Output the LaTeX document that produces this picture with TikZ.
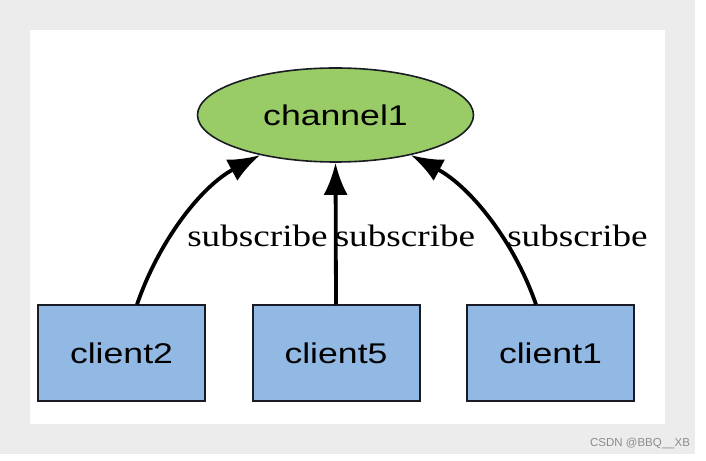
\documentclass[tikz,border=0pt]{standalone}
\usepackage{fontspec}
\usepackage{tikz}
\usetikzlibrary{shapes,arrows.meta}
\usetikzlibrary{positioning}
\newfontfamily\boxfont[FakeStretch=1.25]{Liberation Sans}
\newfontfamily\edgefont[FakeStretch=1.2]{Liberation Serif}
\newfontfamily\markfont{Liberation Sans}
\definecolor{chanfill}{RGB}{153,204,102}
\definecolor{clientfill}{RGB}{146,185,228}
\definecolor{framegray}{RGB}{236,236,236}
\definecolor{edgeline}{RGB}{25,28,36}
\tikzstyle{channel} = [draw=edgeline, fill=chanfill, ellipse, line width=1.6pt,
    minimum width=276pt, minimum height=94pt, inner sep=0pt,
    font=\boxfont\fontsize{28.5}{30}\selectfont]
\tikzstyle{client} = [draw=edgeline, fill=clientfill, rectangle, line width=2pt,
    minimum width=167pt, minimum height=96pt,
    font=\boxfont\fontsize{28.5}{30}\selectfont]
\tikzstyle{sublbl} = [inner sep=0pt, font=\edgefont\fontsize{31}{32}\selectfont]
\tikzstyle{sub} = [line width=3.8pt, -{Latex[length=32pt,width=24pt]}]

\begin{document}
\begin{tikzpicture}[x=1pt, y=1pt, node distance=45.5pt]
    % Frame around the graph
    \useasboundingbox (0,0) rectangle (706,460);
    \fill [framegray] (0,6) rectangle (695,460);
    \fill [white] (30,36) rectangle (665,430);

    % We start by placing the channel and the clients
    \node [channel] (ch) at (335.5,345) {channel1};
    \node [client] (c2) at (121.5,106.5) {client2};
    \node [client, right=of c2] (c5) {client5};
    \node [client, right=of c5] (c1) {client1};

    % Subscriptions from each client to the channel
    \draw [sub] ([xshift=15.5pt]c2.north) .. controls +(21.8,63.3) and +(-59.2,-31.5) .. (ch.208);
    \draw [sub] (c5.north) -- (ch.south);
    \draw [sub] ([xshift=-14.5pt]c1.north) .. controls +(-21.8,63.3) and +(59.2,-31.5) .. (ch.332);

    % Edge labels
    \node [sublbl, anchor=base] (s2) at (257.5,213) {subscribe};
    \node [sublbl, anchor=base] (s5) at (405,213) {subscribe};
    \node [sublbl, anchor=base] (s1) at (577.5,213) {subscribe};

    \node [font=\markfont\fontsize{11.5}{12}\selectfont, text=black!45] (mark) at (640,17) {CSDN @BBQ\_\_XB};
\end{tikzpicture}
\end{document}
